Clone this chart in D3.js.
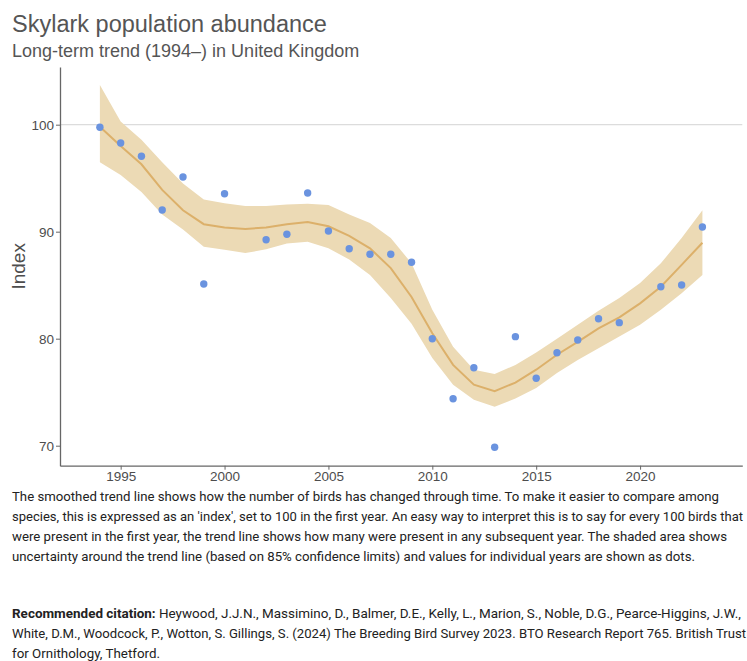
<!DOCTYPE html>
<html>
<head>
<meta charset="utf-8">
<script src="https://cdn.jsdelivr.net/npm/d3@7"></script>
<style>
  html, body { margin: 0; padding: 0; background: #fff; }
  svg { display: block; }
</style>
</head>
<body>
<svg id="chart" width="747" height="661"></svg>
<script>
// Annual index values (no survey in 2001 and 2020)
const pointYears = [1994,1995,1996,1997,1998,1999,2000,2002,2003,2004,2005,2006,2007,2008,2009,2010,2011,2012,2013,2014,2015,2016,2017,2018,2019,2021,2022,2023];
const pointIndex = [99.76,98.29,97.05,92.03,95.11,85.11,93.55,89.25,89.76,93.62,90.07,88.41,87.89,87.89,87.14,80.0,74.39,77.29,69.85,80.19,76.30,78.69,79.88,81.87,81.50,84.86,85.02,90.44];

// Smoothed trend with 85% confidence limits
const trendYears = [1994,1995,1996,1997,1998,1999,2000,2001,2002,2003,2004,2005,2006,2007,2008,2009,2010,2011,2012,2013,2014,2015,2016,2017,2018,2019,2020,2021,2022,2023];
const trendIndex = [99.8,98.0,96.3,93.9,92.0,90.7,90.4,90.25,90.4,90.7,90.9,90.5,89.6,88.45,86.6,83.9,80.5,77.55,75.7,75.1,75.9,77.1,78.5,79.7,80.97,82.0,83.3,84.86,86.9,88.97];
const upperCL = [103.7,100.3,98.6,96.5,94.5,93.0,92.65,92.4,92.4,92.55,92.6,92.5,91.6,90.8,89.4,87.05,82.7,79.25,77.1,76.7,77.55,78.7,80.0,81.3,82.6,83.8,85.2,87.05,89.4,92.0];
const lowerCL = [96.5,95.3,93.7,91.6,90.2,88.6,88.3,88.0,88.35,88.9,89.06,88.45,87.4,85.95,83.8,81.4,78.2,75.7,74.3,73.65,74.4,75.4,76.8,78.0,79.1,80.2,81.3,82.7,84.25,85.95];

const yTicks = [70,80,90,100];
const xTicks = [1995,2000,2005,2010,2015,2020];

const titleText = "Skylark population abundance";
const subtitleText = "Long-term trend (1994–) in United Kingdom";
const yTitle = "Index";

const noteLines = [
  "The smoothed trend line shows how the number of birds has changed through time. To make it easier to compare among",
  "species, this is expressed as an 'index', set to 100 in the first year. An easy way to interpret this is to say for every 100 birds that",
  "were present in the first year, the trend line shows how many were present in any subsequent year. The shaded area shows",
  "uncertainty around the trend line (based on 85% confidence limits) and values for individual years are shown as dots."
];
const citationLabel = "Recommended citation:";
const citationLines = [
  " Heywood, J.J.N., Massimino, D., Balmer, D.E., Kelly, L., Marion, S., Noble, D.G., Pearce-Higgins, J.W.,",
  "White, D.M., Woodcock, P., Wotton, S. Gillings, S. (2024) The Breeding Bird Survey 2023. BTO Research Report 765. British Trust",
  "for Ornithology, Thetford."
];

const svg = d3.select("#chart");
const plot = { left: 60, right: 742.3, top: 67, bottom: 465.7 };

const x = d3.scaleLinear().domain([1992.08, 2024.92]).range([plot.left, plot.right]);
const y = d3.scaleLinear().domain([68.13, 105.39]).range([plot.bottom, plot.top]);

// Titles
svg.append("text").attr("x", 12).attr("y", 31.5)
  .attr("font-family", "'Liberation Sans', Arial, sans-serif").attr("font-size", 23.5)
  .attr("fill", "#555").text(titleText);
svg.append("text").attr("x", 12).attr("y", 57.3)
  .attr("font-family", "'Liberation Sans', Arial, sans-serif").attr("font-size", 18)
  .attr("fill", "#555").text(subtitleText);

// Reference line at index 100
svg.append("line")
  .attr("x1", plot.left).attr("x2", plot.right)
  .attr("y1", y(100)).attr("y2", y(100))
  .attr("stroke", "#dcdcdc").attr("stroke-width", 1.2);

// Confidence band
const bandData = trendYears.map((yr, i) => ({ yr, lo: lowerCL[i], hi: upperCL[i] }));
svg.append("path")
  .datum(bandData)
  .attr("fill", "#ecdab5")
  .attr("d", d3.area().x(d => x(d.yr)).y0(d => y(d.lo)).y1(d => y(d.hi)));

// Trend line
svg.append("path")
  .datum(trendYears.map((yr, i) => ({ yr, v: trendIndex[i] })))
  .attr("fill", "none")
  .attr("stroke", "#dcb06a")
  .attr("stroke-width", 2)
  .attr("d", d3.line().x(d => x(d.yr)).y(d => y(d.v)));

// Annual points
svg.append("g").selectAll("circle")
  .data(pointYears.map((yr, i) => ({ yr, v: pointIndex[i] })))
  .join("circle")
  .attr("cx", d => x(d.yr)).attr("cy", d => y(d.v))
  .attr("r", 3.7).attr("fill", "#6a93df");

// Axes
const axisColor = "#666";
const yAxis = svg.append("g").attr("transform", `translate(${plot.left},0)`)
  .call(d3.axisLeft(y).tickValues(yTicks).tickSize(4).tickPadding(2).tickSizeOuter(0));
const xAxis = svg.append("g").attr("transform", `translate(0,${plot.bottom})`)
  .call(d3.axisBottom(x).tickValues(xTicks).tickFormat(d3.format("d")).tickSize(4).tickPadding(2).tickSizeOuter(0));
[xAxis, yAxis].forEach(g => {
  g.select(".domain").attr("stroke", axisColor).attr("stroke-width", 1.3);
  g.selectAll(".tick line").attr("stroke", axisColor);
  g.selectAll(".tick text")
    .attr("font-family", "'Liberation Sans', Arial, sans-serif")
    .attr("font-size", 13.5).attr("fill", "#4d4d4d");
});

// Y axis title
svg.append("text")
  .attr("transform", `translate(25,${(plot.top + plot.bottom) / 2}) rotate(-90)`)
  .attr("text-anchor", "middle")
  .attr("font-family", "'Liberation Sans', Arial, sans-serif")
  .attr("font-size", 19).attr("fill", "#4d4d4d")
  .text(yTitle);

// Explanatory note
const bodyFont = "'Liberation Sans Narrow', 'Roboto', sans-serif";
const bodySize = 13;
const noteWidths = [707, 731, 715, 683];
noteLines.forEach((line, i) => {
  svg.append("text")
    .attr("x", 12).attr("y", 500.7 + i * 20)
    .attr("font-family", bodyFont).attr("font-size", bodySize).attr("fill", "#222")
    .attr("textLength", noteWidths[i]).attr("lengthAdjust", "spacingAndGlyphs")
    .text(line);
});

// Citation
const citeWidths = [729, 734, 148];
citationLines.forEach((line, i) => {
  const t = svg.append("text")
    .attr("x", 12).attr("y", 618.3 + i * 20)
    .attr("font-family", bodyFont).attr("font-size", bodySize).attr("fill", "#222")
    .attr("textLength", citeWidths[i]).attr("lengthAdjust", "spacingAndGlyphs");
  if (i === 0) t.append("tspan").attr("font-weight", "bold").text(citationLabel);
  t.append("tspan").text(line);
});
</script>
</body>
</html>
